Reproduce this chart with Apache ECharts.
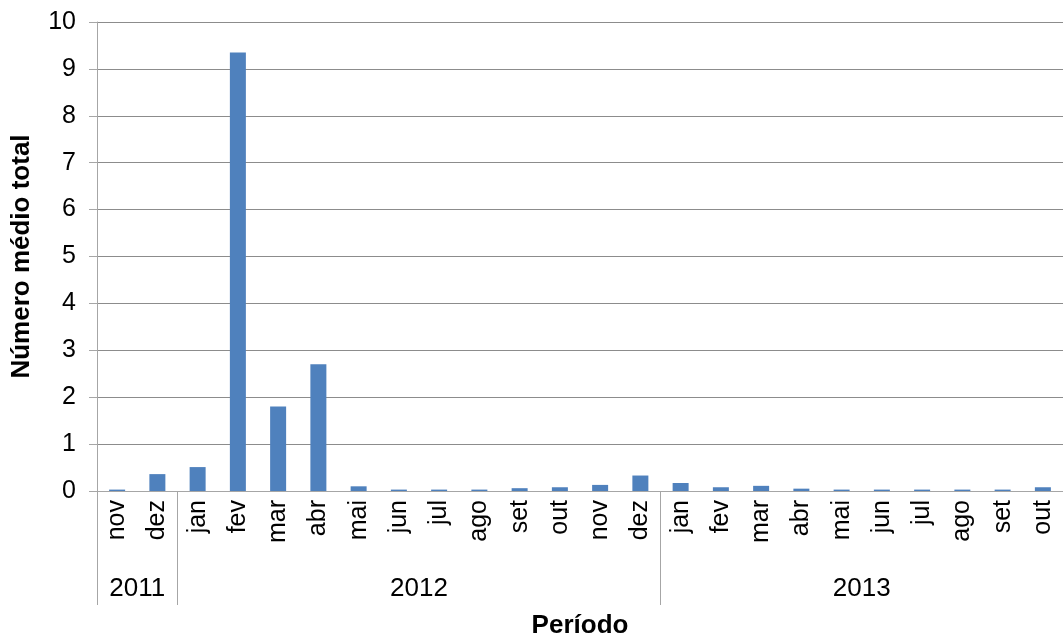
<!DOCTYPE html>
<html>
<head>
<meta charset="utf-8">
<script src="https://cdn.jsdelivr.net/npm/echarts@6/dist/echarts.min.js"></script>
<style>
  html, body { margin: 0; padding: 0; background: #fff; }
  #chart { width: 1063px; height: 639px; }
</style>
</head>
<body>
<div id="chart"></div>
<script>
// meses do período
const months = ['nov', 'dez',
  'jan', 'fev', 'mar', 'abr', 'mai', 'jun', 'jul', 'ago', 'set', 'out', 'nov', 'dez',
  'jan', 'fev', 'mar', 'abr', 'mai', 'jun', 'jul', 'ago', 'set', 'out']
// número médio total por mês
const values = [0.03, 0.36,
  0.51, 9.35, 1.8, 2.7, 0.1, 0.03, 0.03, 0.03, 0.06, 0.08, 0.13, 0.33,
  0.17, 0.08, 0.11, 0.05, 0.03, 0.03, 0.03, 0.03, 0.03, 0.08]
const years = ['2011', '2012', '2013']
const yearCounts = [2, 12, 10]
const yTicks = [0, 1, 2, 3, 4, 5, 6, 7, 8, 9, 10]

// limites e centros de cada ano (em unidades de categoria)
let bounds = [0]
let centers = []
yearCounts.forEach((n, i) => {
  let start = bounds[i]
  bounds.push(start + n)
  centers.push(start + n / 2)
})

const font = '"Liberation Sans", Arial, sans-serif'
let myChart = echarts.init(document.getElementById('chart'))
myChart.setOption({
  animation: false,
  grid: { left: 97, right: 0, top: 22, bottom: 148, outerBoundsMode: 'none', containLabel: false },
  xAxis: [
    {
      type: 'category',
      data: months,
      axisLine: { lineStyle: { color: '#a6a6a6', width: 1 } },
      axisTick: { show: false },
      axisLabel: {
        rotate: 90,
        interval: 0,
        margin: 9,
        color: '#000',
        fontSize: 25,
        fontFamily: font
      }
    },
    {
      type: 'value',
      min: 0,
      max: months.length,
      position: 'bottom',
      axisLine: { show: false },
      splitLine: { show: false },
      axisTick: {
        show: true,
        length: 114,
        customValues: bounds,
        lineStyle: { color: '#a6a6a6' }
      },
      axisLabel: {
        customValues: centers,
        margin: 85,
        color: '#000',
        fontSize: 26,
        fontFamily: font,
        formatter: v => years[centers.indexOf(v)] || ''
      },
      name: 'Período',
      nameLocation: 'middle',
      nameGap: 122,
      nameTextStyle: { color: '#000', fontSize: 26, fontWeight: 'bold', fontFamily: font }
    }
  ],
  yAxis: {
    type: 'value',
    min: yTicks[0],
    max: yTicks[yTicks.length - 1],
    interval: 1,
    name: 'Número médio total',
    nameLocation: 'middle',
    nameRotate: 90,
    nameGap: 62,
    nameTextStyle: { color: '#000', fontSize: 26, fontWeight: 'bold', fontFamily: font },
    axisLine: { show: true, lineStyle: { color: '#a6a6a6' } },
    axisTick: { show: true, length: 8, lineStyle: { color: '#a6a6a6' } },
    axisLabel: { margin: 21, color: '#000', fontSize: 25, fontFamily: font },
    splitLine: { lineStyle: { color: '#8c8c8c', width: 1 } }
  },
  series: [
    {
      type: 'bar',
      data: values,
      barWidth: 16,
      itemStyle: { color: '#4F81BD' }
    }
  ]
})
</script>
</body>
</html>
